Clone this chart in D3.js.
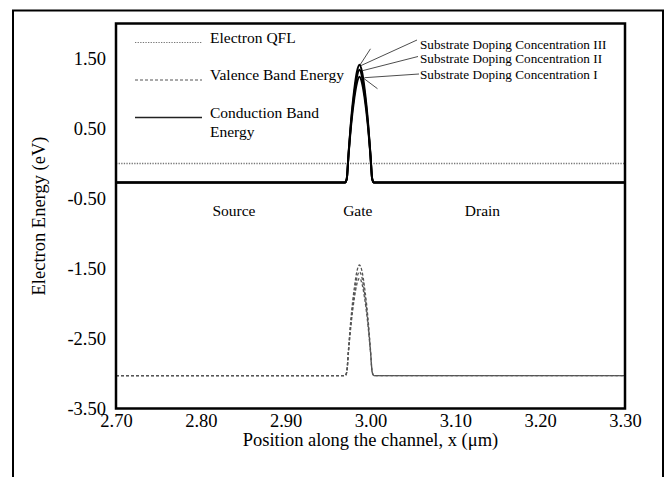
<!DOCTYPE html>
<html>
<head>
<meta charset="utf-8">
<script src="https://cdn.jsdelivr.net/npm/d3@7"></script>
<style>
  body { margin: 0; background: #fff; }
  svg { display: block; }
</style>
</head>
<body>
<div id="chart"></div>
<script>
let width = 665
let height = 477

// position along the channel (um)
let xPos = [2.700, 2.970, 2.972, 2.974, 2.977, 2.981, 2.984, 2.987, 2.990, 2.993, 2.997, 3.000, 3.002, 3.004, 3.300]

// conduction band energy (eV), three substrate doping levels
let cbIII = [-0.27, -0.27, -0.22, 0.12, 0.60, 1.07, 1.31, 1.41, 1.31, 1.07, 0.60, 0.12, -0.22, -0.27, -0.27]
let cbII  = [-0.27, -0.27, -0.22, 0.11, 0.57, 1.01, 1.24, 1.34, 1.24, 1.01, 0.57, 0.11, -0.22, -0.27, -0.27]
let cbI   = [-0.27, -0.27, -0.22, 0.10, 0.53, 0.94, 1.15, 1.24, 1.15, 0.94, 0.53, 0.10, -0.22, -0.27, -0.27]

// valence band energy (eV)
let vbIII = [-3.03, -3.03, -2.98, -2.66, -2.21, -1.77, -1.54, -1.45, -1.54, -1.77, -2.21, -2.66, -2.98, -3.03, -3.03]
let vbII  = [-3.03, -3.03, -2.98, -2.68, -2.26, -1.85, -1.63, -1.55, -1.63, -1.85, -2.26, -2.68, -2.98, -3.03, -3.03]
let vbI   = [-3.03, -3.03, -2.98, -2.70, -2.31, -1.92, -1.72, -1.64, -1.72, -1.92, -2.31, -2.70, -2.98, -3.03, -3.03]

// electron quasi fermi level
let qflX = [2.70, 3.30]
let qflY = [0.00, 0.00]

let xTicks = [2.70, 2.80, 2.90, 3.00, 3.10, 3.20, 3.30]
let yTicks = [1.50, 0.50, -0.50, -1.50, -2.50, -3.50]

let regionNames = ['Source', 'Gate', 'Drain']
let dopingNames = ['Substrate Doping Concentration III', 'Substrate Doping Concentration II', 'Substrate Doping Concentration I']
let legendNames = [['Electron QFL'], ['Valence Band Energy'], ['Conduction Band', 'Energy']]

let font = "'Liberation Serif', 'Times New Roman', serif"

let margin = {left: 116, right: 40, top: 23.5, bottom: 68.5}

let x = d3.scaleLinear()
    .domain([2.7, 3.3])
    .range([margin.left, width - margin.right])

let y = d3.scaleLinear()
    .domain([-3.5, 2.0])
    .range([height - margin.bottom, margin.top])

const svg = d3.select("#chart").append("svg")
    .attr("width", width)
    .attr("height", height)
    .attr("font-family", font)

// outer frame (bottom edge runs off the picture)
svg.append("rect")
    .attr("x", 13)
    .attr("y", 10.5)
    .attr("width", 650)
    .attr("height", 500)
    .attr("fill", "none")
    .attr("stroke", "black")
    .attr("stroke-width", 2)

let line = d3.line()
    .x(d => x(d[0]))
    .y(d => y(d[1]))
    .curve(d3.curveMonotoneX)

function pts(xs, ys) {
    return xs.map((v, i) => [v, ys[i]])
}

// electron QFL
svg.append("path")
    .attr("d", line(pts(qflX, qflY)))
    .attr("fill", "none")
    .attr("stroke", "#777")
    .attr("stroke-width", 1.3)
    .attr("stroke-dasharray", "1.3,1.3")

// valence band
for (const vb of [vbI, vbII, vbIII]) {
    svg.append("path")
        .attr("d", line(pts(xPos, vb)))
        .attr("fill", "none")
        .attr("stroke", "#555")
        .attr("stroke-width", 1.3)
        .attr("stroke-dasharray", "3,2")
}

// conduction band
for (const cb of [cbI, cbII, cbIII]) {
    svg.append("path")
        .attr("d", line(pts(xPos, cb)))
        .attr("fill", "none")
        .attr("stroke", "black")
        .attr("stroke-width", 2)
}

// plot border
svg.append("rect")
    .attr("x", x(2.7))
    .attr("y", y(2.0))
    .attr("width", x(3.3) - x(2.7))
    .attr("height", y(-3.5) - y(2.0))
    .attr("fill", "none")
    .attr("stroke", "black")
    .attr("stroke-width", 2.5)

let fmt = d => d.toFixed(2)

// axes
let xAxis = svg.append("g")
    .attr("transform", `translate(0,${y(-3.5)})`)
    .call(d3.axisBottom(x).tickValues(xTicks).tickSize(0).tickPadding(5).tickFormat(fmt))
xAxis.select(".domain").remove()
xAxis.selectAll("text")
    .attr("font-family", font)
    .attr("font-size", 18.5)
    .attr("fill", "black")

let yAxis = svg.append("g")
    .attr("transform", `translate(${x(2.7)},0)`)
    .call(d3.axisLeft(y).tickValues(yTicks).tickSize(0).tickPadding(10).tickFormat(fmt))
yAxis.select(".domain").remove()
yAxis.selectAll("text")
    .attr("font-family", font)
    .attr("font-size", 18.5)
    .attr("fill", "black")

svg.append("text")
    .attr("x", (x(2.7) + x(3.3)) / 2)
    .attr("y", 446)
    .attr("text-anchor", "middle")
    .attr("font-size", 18.5)
    .text("Position along the channel, x (μm)")

svg.append("text")
    .attr("transform", `translate(39,${(y(2.0) + y(-3.5)) / 2}) rotate(-90)`)
    .attr("text-anchor", "middle")
    .attr("dy", "0.35em")
    .attr("font-size", 18.5)
    .text("Electron Energy (eV)")

// region labels
let regionX = [2.839, 2.985, 3.132]
svg.append("g")
    .selectAll("text")
    .data(regionNames)
    .join("text")
    .attr("x", (d, i) => x(regionX[i]))
    .attr("y", y(-0.67))
    .attr("dy", "0.35em")
    .attr("text-anchor", "middle")
    .attr("font-size", 15.5)
    .text(d => d)

// legend
let legendY = [42.5, 80, 117.5]
let legendDash = ["1.3,1.3", "3,2", null]
let legendColor = ["#777", "#555", "#222"]
let legend = svg.append("g")
    .selectAll("g")
    .data(legendNames)
    .join("g")
    .attr("transform", (d, i) => `translate(0,${legendY[i]})`)

legend.append("line")
    .attr("x1", 135)
    .attr("x2", 202)
    .attr("stroke", (d, i) => legendColor[i])
    .attr("stroke-width", (d, i) => i == 2 ? 1.5 : 1.2)
    .attr("stroke-dasharray", (d, i) => legendDash[i])

legend.append("text")
    .attr("x", 210)
    .attr("dy", "0.35em")
    .attr("font-size", 15.5)
    .selectAll("tspan")
    .data(d => d)
    .join("tspan")
    .attr("x", 210)
    .attr("dy", (d, i) => i == 0 ? 0 : 19)
    .text(d => d)

// doping annotations with leader lines
let peakX = 2.987
let peaks = [cbIII[7], cbII[7], cbI[7]]
let annY = [44, 58.5, 74]
let ann = svg.append("g")
ann.selectAll("line.leader")
    .data(dopingNames)
    .join("line")
    .attr("class", "leader")
    .attr("x1", (d, i) => 417 + i)
    .attr("y1", (d, i) => annY[i] - 4 + i * 2)
    .attr("x2", (d, i) => x(peakX) + 1 + i * 2)
    .attr("y2", (d, i) => y(peaks[i]) + 1)
    .attr("stroke", "black")
    .attr("stroke-width", 0.7)

ann.append("line")
    .attr("x1", x(peakX)).attr("y1", y(peaks[0]) + 1)
    .attr("x2", x(peakX) + 11).attr("y2", y(peaks[0]) - 16)
    .attr("stroke", "black").attr("stroke-width", 0.7)
ann.append("line")
    .attr("x1", x(peakX) + 2).attr("y1", y(peaks[2]))
    .attr("x2", x(peakX) + 18).attr("y2", y(peaks[2]) + 12)
    .attr("stroke", "black").attr("stroke-width", 0.7)

ann.selectAll("text")
    .data(dopingNames)
    .join("text")
    .attr("x", 420)
    .attr("y", (d, i) => annY[i])
    .attr("dy", "0.35em")
    .attr("font-size", 13.2)
    .text(d => d)
</script>
</body>
</html>
